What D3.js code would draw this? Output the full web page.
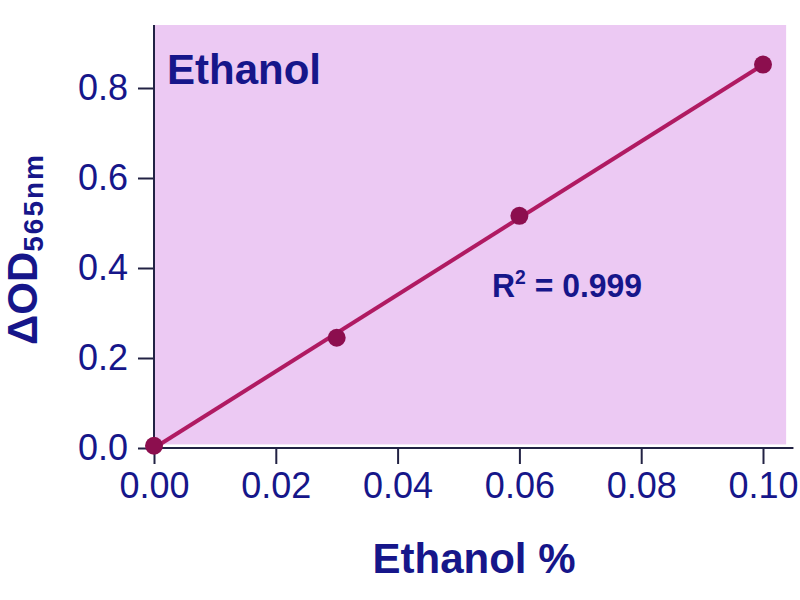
<!DOCTYPE html>
<html>
<head>
<meta charset="utf-8">
<script src="https://cdn.jsdelivr.net/npm/d3@7"></script>
<style>
  body { margin: 0; background: #fff; }
  text { font-family: Arial, 'Liberation Sans', sans-serif; }
</style>
</head>
<body>
<svg id="chart" width="800" height="600"></svg>
<script>
// ethanol standard curve readings
var ethanolPct = [0, 0.03, 0.06, 0.10]
var deltaOD = [0.005, 0.245, 0.516, 0.852]
var xTicks = [0, 0.02, 0.04, 0.06, 0.08, 0.10]
var yTicks = [0, 0.2, 0.4, 0.6, 0.8]
var rSquared = '0.999'

var navy = '#16168a'
var plotBg = '#ecc9f3'
var lineColor = '#b01a62'
var dotColor = '#8c0e4e'

var svg = d3.select('#chart')

var xScale = d3.scaleLinear().domain([0, 0.1]).range([154, 763])
var yScale = d3.scaleLinear().domain([0, 0.8]).range([448, 88])

// pink plot area
svg.append('rect')
	.attr('x', xScale(0))
	.attr('y', yScale(0.94))
	.attr('width', xScale(0.1038) - xScale(0))
	.attr('height', yScale(0.008) - yScale(0.94))
	.style('fill', plotBg)

// axes
var xAxis = svg.append('g')
	.attr('transform', 'translate(0,' + yScale(0) + ')')
	.call(d3.axisBottom(xScale).tickValues(xTicks).tickSize(16).tickPadding(8)
		.tickFormat(d3.format('.2f')))
xAxis.select('.domain').remove()

var yAxis = svg.append('g')
	.attr('transform', 'translate(' + xScale(0) + ',0)')
	.call(d3.axisLeft(yScale).tickValues(yTicks).tickSize(16).tickPadding(10)
		.tickFormat(d3.format('.1f')))
yAxis.select('.domain').remove()

svg.selectAll('.tick line').style('stroke', '#222244').style('stroke-width', 2)
svg.selectAll('.tick text')
	.style('font-size', '36px')
	.style('fill', navy)

// axis lines drawn by hand so they can run past the last tick
svg.append('line')
	.attr('x1', xScale(0)).attr('x2', xScale(0.105))
	.attr('y1', yScale(0)).attr('y2', yScale(0))
	.style('stroke', '#222244').style('stroke-width', 2)
svg.append('line')
	.attr('x1', xScale(0)).attr('x2', xScale(0))
	.attr('y1', yScale(0)).attr('y2', yScale(0.94))
	.style('stroke', '#222244').style('stroke-width', 2)

// least squares fit
var mx = d3.mean(ethanolPct), my = d3.mean(deltaOD)
var sxy = d3.sum(ethanolPct, function (d, i) { return (d - mx) * (deltaOD[i] - my) })
var sxx = d3.sum(ethanolPct, function (d) { return (d - mx) * (d - mx) })
var slope = sxy / sxx
var intercept = my - slope * mx

svg.append('path')
	.datum([0.001, 0.1])
	.attr('d', d3.line()
		.x(function (d) { return xScale(d) })
		.y(function (d) { return yScale(slope * d + intercept) }))
	.style('fill', 'none')
	.style('stroke', lineColor)
	.style('stroke-width', 4)

svg.selectAll('circle.pt')
	.data(ethanolPct)
	.enter()
	.append('circle')
	.attr('class', 'pt')
	.attr('cx', function (d) { return xScale(d) })
	.attr('cy', function (d, i) { return yScale(deltaOD[i]) })
	.attr('r', 9)
	.style('fill', dotColor)

// labels
svg.append('text')
	.attr('x', 167).attr('y', 84)
	.style('font-size', '42px').style('font-weight', 'bold')
	.style('fill', navy)
	.text('Ethanol')

var r2 = svg.append('text')
	.attr('x', 492).attr('y', 297)
	.attr('textLength', 150).attr('lengthAdjust', 'spacingAndGlyphs')
	.style('font-size', '33px').style('font-weight', 'bold')
	.style('fill', navy)
r2.append('tspan').text('R')
r2.append('tspan').attr('dy', -13).style('font-size', '20px').text('2')
r2.append('tspan').attr('dy', 13).text(' = ' + rSquared)

svg.append('text')
	.attr('x', 474).attr('y', 573)
	.attr('text-anchor', 'middle')
	.style('font-size', '42px').style('font-weight', 'bold')
	.style('fill', navy)
	.text('Ethanol %')

var yTitle = svg.append('text')
	.attr('transform', 'translate(37,249) rotate(-90)')
	.attr('text-anchor', 'middle')
	.style('font-size', '42px').style('font-weight', 'bold')
	.style('fill', navy)
yTitle.append('tspan').text('\u0394OD')
yTitle.append('tspan').attr('dy', 6)
	.style('font-size', '28px').style('letter-spacing', '2px')
	.text('565nm')
</script>
</body>
</html>
